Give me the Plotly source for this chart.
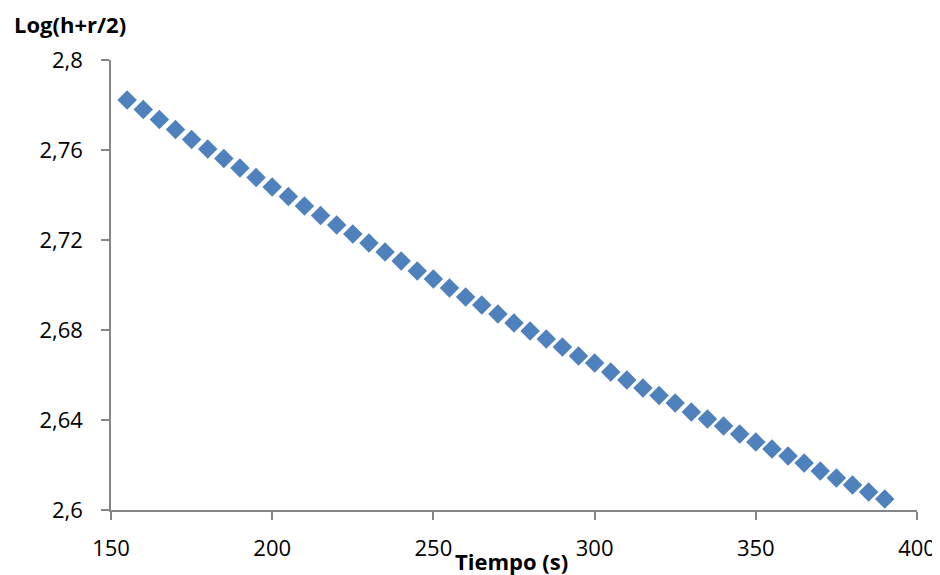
import plotly.graph_objects as go

tiempo = [155, 160, 165, 170, 175, 180, 185, 190, 195, 200, 205, 210, 215, 220,
          225, 230, 235, 240, 245, 250, 255, 260, 265, 270, 275, 280, 285, 290,
          295, 300, 305, 310, 315, 320, 325, 330, 335, 340, 345, 350, 355, 360,
          365, 370, 375, 380, 385, 390]
log_h = [2.7822, 2.7780, 2.7736, 2.7691, 2.7647, 2.7604, 2.7562, 2.7520, 2.7478,
         2.7436, 2.7393, 2.7351, 2.7309, 2.7267, 2.7227, 2.7187, 2.7147, 2.7107,
         2.7062, 2.7027, 2.6987, 2.6947, 2.6911, 2.6871, 2.6831, 2.6796, 2.6760,
         2.6724, 2.6684, 2.6653, 2.6613, 2.6578, 2.6542, 2.6509, 2.6476, 2.6436,
         2.6404, 2.6373, 2.6338, 2.6302, 2.6271, 2.6240, 2.6209, 2.6173, 2.6142,
         2.6111, 2.6080, 2.6049]

x_ticks = [150, 200, 250, 300, 350, 400]
y_ticks = [2.6, 2.64, 2.68, 2.72, 2.76, 2.8]

FONT = "Open Sans, Liberation Sans, sans-serif"

fig = go.Figure()
fig.add_trace(go.Scatter(
    x=tiempo, y=log_h, mode="markers",
    marker=dict(symbol="diamond", size=15, color="#4F81BD", line=dict(width=0)),
    showlegend=False, cliponaxis=False,
))

axis_common = dict(
    showgrid=False, zeroline=False, showline=True, linecolor="#868686", linewidth=1.5,
    ticks="outside", ticklen=8, tickcolor="#868686", tickwidth=1.5,
    tickfont=dict(family=FONT, size=22, color="#000000"),
    automargin=False,
)

fig.update_layout(
    width=932, height=567,
    margin=dict(l=103, r=23, t=52, b=65),
    paper_bgcolor="white", plot_bgcolor="white",
    separators=",.",
    xaxis=dict(range=[150, 400], tickvals=x_ticks, ticklabelstandoff=10, **axis_common),
    yaxis=dict(range=[2.6, 2.8], tickvals=y_ticks, ticklabelstandoff=14, **axis_common),
    annotations=[
        dict(text="<b>Log(h+r/2)</b>", xref="paper", yref="paper", x=0, y=1.0,
             xanchor="left", yanchor="middle", xshift=-99, yshift=36, showarrow=False,
             font=dict(family=FONT, size=22, color="#000000")),
        dict(text="<b>Tiempo (s)</b>", xref="paper", yref="paper", x=0.4975, y=0,
             xanchor="center", yanchor="middle", yshift=-51, showarrow=False,
             font=dict(family=FONT, size=22, color="#000000")),
    ],
)

fig.write_html("out.html")
